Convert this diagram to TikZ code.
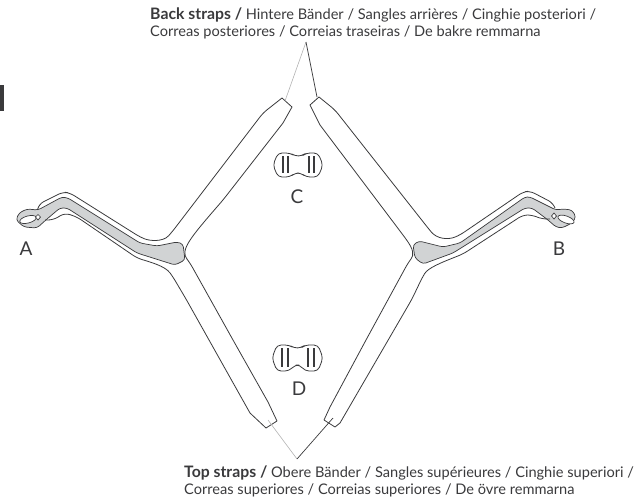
\documentclass[tikz,border=0pt]{standalone}
\usepackage{fontspec}
\setmainfont{Lato}
\definecolor{inkline}{HTML}{3A3A3C}
\definecolor{padfill}{HTML}{D1D3D4}
\newcommand{\strapshead}[1]{{\fontsize{15.8}{17}\selectfont\bfseries #1}}
\tikzset{
  strapline/.style={draw=inkline,line width=0.8pt,rounded corners=5pt,line join=round},
  sliderline/.style={draw=inkline,line width=0.8pt,rounded corners=4pt,line join=round},
  padshape/.style={draw=inkline,fill=padfill,line width=0.7pt,rounded corners=3pt,line join=round},
  holeshape/.style={draw=inkline,fill=white,line width=0.7pt},
  slotline/.style={draw=inkline,line width=1.2pt},
  leaderblack/.style={draw=inkline,line width=0.7pt},
  leadergray/.style={draw=black!30,line width=0.6pt},
  partlabel/.style={font=\fontsize{19}{19}\selectfont,text=inkline,inner sep=0pt},
  caption/.style={font=\fontsize{14.6}{17}\selectfont,text=inkline,align=left,anchor=north west,inner sep=0pt}
}
\begin{document}
\begin{tikzpicture}[x=1pt,y=-1pt]

    \useasboundingbox (0,0) rectangle (635,498);

    % mark at the page edge
    \fill[inkline] (0,85) rectangle (4,111);

    % left pad
    \path[padshape] (16,220) -- (19,213) -- (27,209) -- (38,210) -- (62,197) -- (68,198) -- (140,243)
      -- (157,246) -- (177,242) -- (183,244) -- (185,260) -- (175,265) -- (137,253) -- (67,208)
      -- (60,208) -- (47,219) -- (37,228) -- (24,227) -- cycle;
    \path[holeshape] (28,219.5) ellipse [x radius=8.5,y radius=3.5,rotate=15];
    \path[holeshape] (38,214.5) -- (40.5,217) -- (38,220) -- (35.5,217) -- cycle;

    % left strap
    \path[strapline] (38,208) -- (39,204) -- (63,192) -- (70,193) -- (140,237)
      .. controls (150,241) and (163,242) .. (172,232)
      -- (263,113) [sharp corners] -- (282,98) -- (292,107) -- (283,123) [rounded corners=5pt] -- (223,200)
      .. controls (190,238) and (180,250) .. (190,263)
      -- (233,340) [sharp corners] -- (268,402) -- (277,421) -- (266,428) -- (250,413) [rounded corners=5pt]
      -- (186,299) -- (173,277) .. controls (165,266) and (150,262) .. (137,258)
      -- (77,217) -- (65,213) -- (53,220) -- (45,220);

    % right pad
    \path[padshape] (576,217) -- (572,210) -- (563,209) -- (556,210) -- (530,197) -- (525,197) -- (460,243)
      -- (443,247) -- (419,241) -- (413,245) -- (415,258) -- (423,264) -- (453,253) -- (525,208)
      -- (532,208) -- (548,220) -- (556,227) -- (562,228) -- (572,223) -- cycle;
    \path[holeshape] (566,219.5) ellipse [x radius=8.5,y radius=3.5,rotate=-20];
    \path[holeshape] (554,213) -- (556.5,216) -- (554,219) -- (551.5,216) -- cycle;

    % right strap
    \path[strapline] (555,208) -- (553,203) -- (530,191) -- (523,192) -- (460,235)
      .. controls (448,240) and (437,239) .. (428,228)
      -- (335,110) [sharp corners] -- (319,97) -- (310,105) -- (320,125) [rounded corners=5pt] -- (403,235)
      .. controls (414,250) and (414,255) .. (408,263)
      -- (366,340) [sharp corners] -- (330,407) -- (324,420) -- (335,427) -- (340,423) [rounded corners=5pt]
      -- (412,299) -- (422,278) .. controls (428,268) and (440,263) .. (463,254)
      -- (523,215) -- (532,215) -- (542,219) -- (550,219);

    % upper slider
    \path[sliderline] (278,153) -- (290,153) -- (295,156) -- (302,156) -- (306,153) -- (318,153)
      -- (323,165) -- (318,177) -- (306,177) -- (301,173) -- (295,173) -- (290,177) -- (278,177) -- (273,165) -- cycle;
    \draw[slotline] (283,156) -- (283,173);
    \draw[slotline] (288,156) -- (288,173);
    \draw[slotline] (309,156) -- (309,173);
    \draw[slotline] (314,156) -- (314,173);

    % lower slider
    \path[sliderline] (277,345) -- (289,345) -- (294,348) -- (301,348) -- (305,345) -- (318,345)
      -- (323,358) -- (318,371) -- (305,371) -- (300,365) -- (295,365) -- (289,371) -- (277,371) -- (272,358) -- cycle;
    \draw[slotline] (282,348) -- (282,367);
    \draw[slotline] (288,348) -- (288,367);
    \draw[slotline] (308,348) -- (308,367);
    \draw[slotline] (314,348) -- (314,367);

    % part letters
    \node[partlabel] (labelA) at (26,249) {A};
    \node[partlabel] (labelB) at (559,249) {B};
    \node[partlabel] (labelC) at (297,197) {C};
    \node[partlabel] (labelD) at (299,389) {D};

    % back straps
    \node[caption] (backtext) at (150,8) {\strapshead{Back straps /} Hintere Bänder / Sangles arrières / Cinghie posteriori /\\Correas posteriores / Correias traseiras / De bakre remmarna};
    \coordinate (backapex) at (306,42);
    \coordinate (backleft) at (285,101);
    \coordinate (backright) at (317,97);
    \draw[leadergray] (backapex) -- (backleft);
    \draw[leaderblack] (backapex) -- (backright);

    % top straps
    \node[caption] (toptext) at (184,466) {\strapshead{Top straps /} Obere Bänder / Sangles supérieures / Cinghie superiori /\\Correas superiores / Correias superiores / De övre remmarna};
    \coordinate (topapex) at (297,459);
    \coordinate (topleft) at (268,420);
    \coordinate (topright) at (333,418);
    \draw[leadergray] (topapex) -- (topleft);
    \draw[leaderblack] (topapex) -- (topright);

\end{tikzpicture}
\end{document}
